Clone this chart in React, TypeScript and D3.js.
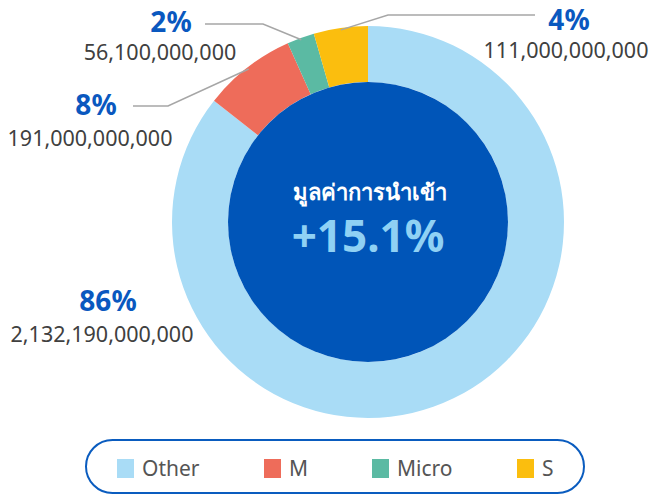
import React from "react";
import * as d3 from "d3";

const categories = ["Other", "M", "Micro", "S"];
const values = [2132190000000, 191000000000, 56100000000, 111000000000];
const percentLabels = ["86%", "8%", "2%", "4%"];
const valueLabels = ["2,132,190,000,000", "191,000,000,000", "56,100,000,000", "111,000,000,000"];
const colors = ["#a9dcf6", "#ee6c5a", "#5bbaa3", "#fbbe0e"];
const centerTitle = "มูลค่าการนำเข้า";
const centerValue = "+15.1%";

const W = 655;
const H = 495;
const cx = 368;
const cy = 222;
const outerR = 196;
const innerR = 140;

const labelLayout: Array<{ px: number; py: number; vx: number; vy: number; leader?: [number, number, number] }> = [
  { px: 108, py: 311, vx: 102, vy: 342 },
  { px: 96, py: 115, vx: 90, vy: 146, leader: [168, 106, 133] },
  { px: 171, py: 32, vx: 160, vy: 60, leader: [263, 24, 205] },
  { px: 569, py: 30, vx: 566, vy: 58, leader: [388, 15, 535] },
];

const FONT = "'Noto Sans', 'Open Sans', sans-serif";

export default function App() {
  const pie = d3
    .pie<number>()
    .sort(null)
    .startAngle(0)
    .endAngle(Math.PI * 2)
    .value((d) => d);
  const arcs = pie(values);
  const arc = d3.arc<d3.PieArcDatum<number>>().innerRadius(innerR).outerRadius(outerR);

  return (
    <svg
      width={W}
      height={H}
      style={{ position: "absolute", left: 0, top: 0, background: "#fff" }}
      fontFamily={FONT}
    >
      <g transform={`translate(${cx},${cy})`}>
        {arcs.map((a, i) => (
          <path key={categories[i]} d={arc(a) || ""} fill={colors[i]} />
        ))}
        <circle r={innerR} fill="#0055b8" />
      </g>
      <text x={370} y={200} textAnchor="middle" fill="#ffffff" fontSize={22} fontWeight={700}>
        {centerTitle}
      </text>
      <text x={368} y={252} textAnchor="middle" fill="#8fd1f4" fontSize={44} fontWeight={700}>
        {centerValue}
      </text>
      {arcs.map((a, i) => {
        const L = labelLayout[i];
        const mid = (a.startAngle + a.endAngle) / 2;
        const sx = cx + Math.sin(mid) * (outerR - 2);
        const sy = cy - Math.cos(mid) * (outerR - 2);
        return (
          <g key={"lab" + i}>
            {L.leader && (
              <polyline
                points={`${sx},${sy} ${L.leader[0]},${L.leader[1]} ${L.leader[2]},${L.leader[1]}`}
                fill="none"
                stroke="#a6a6a6"
                strokeWidth={1.5}
              />
            )}
            <text x={L.px} y={L.py} textAnchor="middle" fill="#0a58bf" fontSize={28} fontWeight={700}>
              {percentLabels[i]}
            </text>
            <text x={L.vx} y={L.vy} textAnchor="middle" fill="#404040" fontSize={21.5}>
              {valueLabels[i]}
            </text>
          </g>
        );
      })}
      <rect x={86} y={440} width={498} height={53} rx={26.5} fill="#fff" stroke="#0a5cbf" strokeWidth={2} />
      {categories.map((c, i) => {
        const xs = [117, 264, 372, 517];
        return (
          <g key={"leg" + c}>
            <rect x={xs[i]} y={459} width={17} height={19} fill={colors[i]} />
            <text x={xs[i] + 25} y={476} fill="#555555" fontSize={21}>
              {c}
            </text>
          </g>
        );
      })}
    </svg>
  );
}
